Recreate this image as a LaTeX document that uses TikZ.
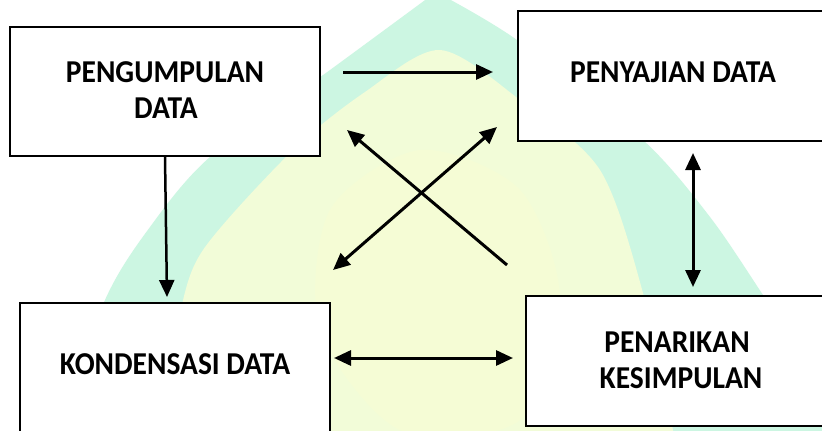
\documentclass[tikz,border=0pt]{standalone}
\usepackage{fontspec}
\setmainfont{Carlito}
\usetikzlibrary{arrows.meta}

\definecolor{wmmint}{RGB}{204,246,226}
\definecolor{wmyellow}{RGB}{242,252,216}
\definecolor{wmcore}{RGB}{252,252,208}

\tikzset{
  stagebox/.style={draw=black, line width=2.6pt, fill=white, inner sep=0pt},
  stagetext/.style={font=\fontsize{29.5}{34}\selectfont\bfseries, anchor=base, inner sep=0pt, yscale=1.08},
  tip/.tip={Triangle[length=17pt,width=15pt]},
  flow/.style={line width=3pt, -tip},
  twoway/.style={line width=3pt, tip-tip},
}

\begin{document}
\begin{tikzpicture}[x=1pt, y=-1pt]
  \clip (0,0) rectangle (822,431);
  \fill[white] (0,0) rectangle (822,431);

  % background emblem: pointed arch with a pale core
  \fill[wmmint]
    plot[smooth] coordinates {(55,440) (105,300) (150,227) (210,157) (330,70) (436,-8)}
    -- plot[smooth] coordinates {(436,-8) (517,40) (643,140) (710,217) (763,295) (815,375) (850,440)}
    -- cycle;
  \fill[wmyellow]
    plot[smooth] coordinates {(150,440) (178,320) (203,250) (293,150) (365,92) (440,50) (520,100) (600,170) (643,293) (675,440)}
    -- cycle;
  \fill[wmcore, opacity=0.35]
    plot[smooth cycle] coordinates {(330,210) (420,150) (520,190) (560,300) (520,420) (400,430) (320,330)};

  % stage boxes
  \node[stagebox, minimum width=310pt, minimum height=129pt] (pengumpulan) at (165,91.5) {};
  \node[stagebox, minimum width=312pt, minimum height=130pt] (penyajian) at (674,76) {};
  \node[stagebox, minimum width=310pt, minimum height=140pt] (kondensasi) at (175,373) {};
  \node[stagebox, minimum width=304pt, minimum height=130pt] (penarikan) at (678,361) {};

  % labels
  \node[stagetext] (t1a) at (165,82) {PENGUMPULAN};
  \node[stagetext] (t1b) at (166,118) {DATA};
  \node[stagetext] (t2) at (673,82) {PENYAJIAN DATA};
  \node[stagetext] (t3) at (175,374) {KONDENSASI DATA};
  \node[stagetext] (t4a) at (677,352) {PENARIKAN};
  \node[stagetext] (t4b) at (681,388) {KESIMPULAN};

  % arrow end points
  \coordinate (a1s) at (343,72);   \coordinate (a1e) at (493,72);
  \coordinate (a2s) at (165,157);  \coordinate (a2e) at (167,297);
  \coordinate (a3s) at (507,265);  \coordinate (a3e) at (347,130);
  \coordinate (a4s) at (333,270);  \coordinate (a4e) at (497,127);
  \coordinate (a5s) at (693,153);  \coordinate (a5e) at (693,287);
  \coordinate (a6s) at (334,358);  \coordinate (a6e) at (513,358);

  % connectors
  \draw[flow] (a1s) -- (a1e);
  \draw[flow, line width=2.5pt] (a2s) -- (a2e);
  \draw[flow] (a3s) -- (a3e);
  \draw[twoway] (a4s) -- (a4e);
  \draw[twoway] (a5s) -- (a5e);
  \draw[twoway] (a6s) -- (a6e);
\end{tikzpicture}
\end{document}
